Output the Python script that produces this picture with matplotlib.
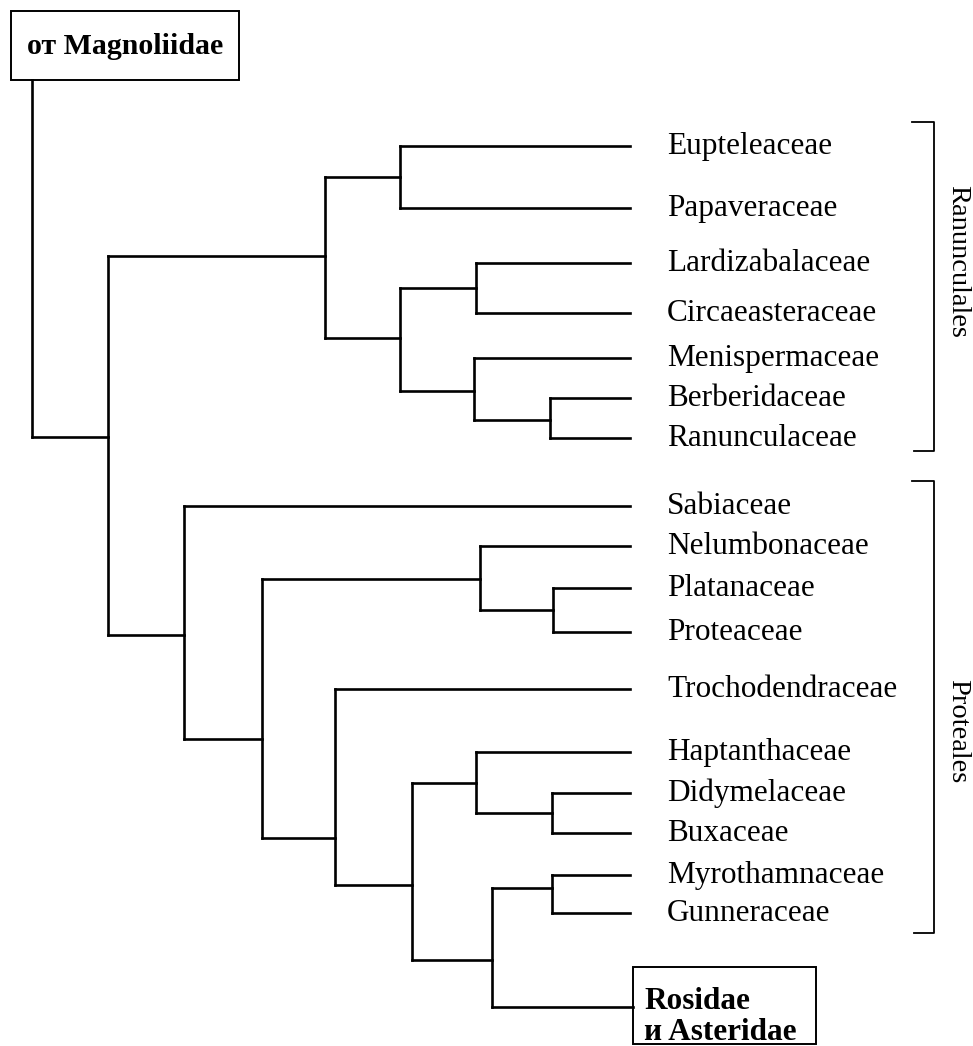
import matplotlib.pyplot as plt
from matplotlib.patches import Rectangle


plt.rcParams['font.family'] = ['Liberation Serif', 'DejaVu Serif']


# leaves (top to bottom) and their row position
leaves = [
    "Eupteleaceae", "Papaveraceae", "Lardizabalaceae", "Circaeasteraceae",
    "Menispermaceae", "Berberidaceae", "Ranunculaceae",
    "Sabiaceae", "Nelumbonaceae", "Platanaceae", "Proteaceae",
    "Trochodendraceae", "Haptanthaceae", "Didymelaceae", "Buxaceae",
    "Myrothamnaceae", "Gunneraceae",
]
leaf_y = [146, 208, 263, 313, 358, 398, 438,
          506, 546, 588, 632, 689, 752, 793, 833, 875, 913]

# the terminal box at the bottom
rosid_name = "Rosidae\nи Asteridae"
rosid_y = 1007

# internal nodes: depth, row where the stem joins, children
node_names = ["EP", "LC", "BR", "MBR", "LCMBR", "RAN",
              "PP", "NPP", "DB", "HDB", "MG", "MGR", "CORE", "T", "NT", "PROT", "ROOT"]
node_x = [400, 476, 550, 474, 400, 325,
          553, 480, 552, 476, 552, 492, 412, 335, 262, 184, 108]
node_y = [177, 288, 420, 391, 338, 256,
          610, 579, 813, 783, 888, 960, 885, 838, 739, 635, 437]
node_children = [
    ["Eupteleaceae", "Papaveraceae"],
    ["Lardizabalaceae", "Circaeasteraceae"],
    ["Berberidaceae", "Ranunculaceae"],
    ["Menispermaceae", "BR"],
    ["LC", "MBR"],
    ["EP", "LCMBR"],
    ["Platanaceae", "Proteaceae"],
    ["Nelumbonaceae", "PP"],
    ["Didymelaceae", "Buxaceae"],
    ["Haptanthaceae", "DB"],
    ["Myrothamnaceae", "Gunneraceae"],
    ["MG", rosid_name],
    ["HDB", "MGR"],
    ["Trochodendraceae", "CORE"],
    ["NPP", "T"],
    ["Sabiaceae", "NT"],
    ["RAN", "PROT"],
]

root_name = "от Magnoliidae"
root_x = 32

# orders (brackets on the right)
groups = ["Ranunculales", "Proteales"]
group_top = [122, 481]
group_bottom = [451, 933]
group_label_y = [261, 731]


leaf_end = 630
box_left = 633
W, H = 973, 1046

fig = plt.figure(figsize=(W / 100, H / 100), dpi=100)
ax = fig.add_axes([0, 0, 1, 1])
ax.set_xlim(0, W)
ax.set_ylim(H, 0)
ax.axis("off")

lw = 1.9

# where each named thing sits
pos = {}
for name, y in zip(leaves, leaf_y):
    pos[name] = (leaf_end, y)
pos[rosid_name] = (box_left, rosid_y)
for name, x, y in zip(node_names, node_x, node_y):
    pos[name] = (x, y)

# * draw the tree
for name, x, kids in zip(node_names, node_x, node_children):
    ys = [pos[k][1] for k in kids]
    ax.plot([x, x], [min(ys), max(ys)], color="black", lw=lw, solid_capstyle="projecting")
    for k in kids:
        ax.plot([x, pos[k][0]], [pos[k][1], pos[k][1]], color="black", lw=lw,
                solid_capstyle="projecting")

# stem from Magnoliidae box down to the root node
root_y = pos["ROOT"][1]
ax.plot([root_x, root_x], [80, root_y], color="black", lw=lw)
ax.plot([root_x, pos["ROOT"][0]], [root_y, root_y], color="black", lw=lw)

# leaf labels
for name, y in zip(leaves, leaf_y):
    ax.text(667, y + 8, name, fontsize=22.5, va="baseline", ha="left")

# boxes
ax.add_patch(Rectangle((11, 11), 228, 69, fill=False, lw=1.4, ec="black"))
ax.text(125, 46, root_name, fontsize=21.5, fontweight="bold", ha="center", va="center")

ax.add_patch(Rectangle((box_left, 967), 183, 77, fill=False, lw=1.4, ec="black"))
ax.text(644, 1017, rosid_name, fontsize=22.5, fontweight="bold", ha="left", va="center",
        linespacing=1.05)

# brackets
for g, top, bot, ly in zip(groups, group_top, group_bottom, group_label_y):
    ax.plot([912, 934, 934, 914], [top, top, bot, bot], color="black", lw=1.3)
    ax.text(958, ly, g, fontsize=20.5, rotation=-90, ha="center", va="center")

plt.savefig("out.png", dpi=100)
